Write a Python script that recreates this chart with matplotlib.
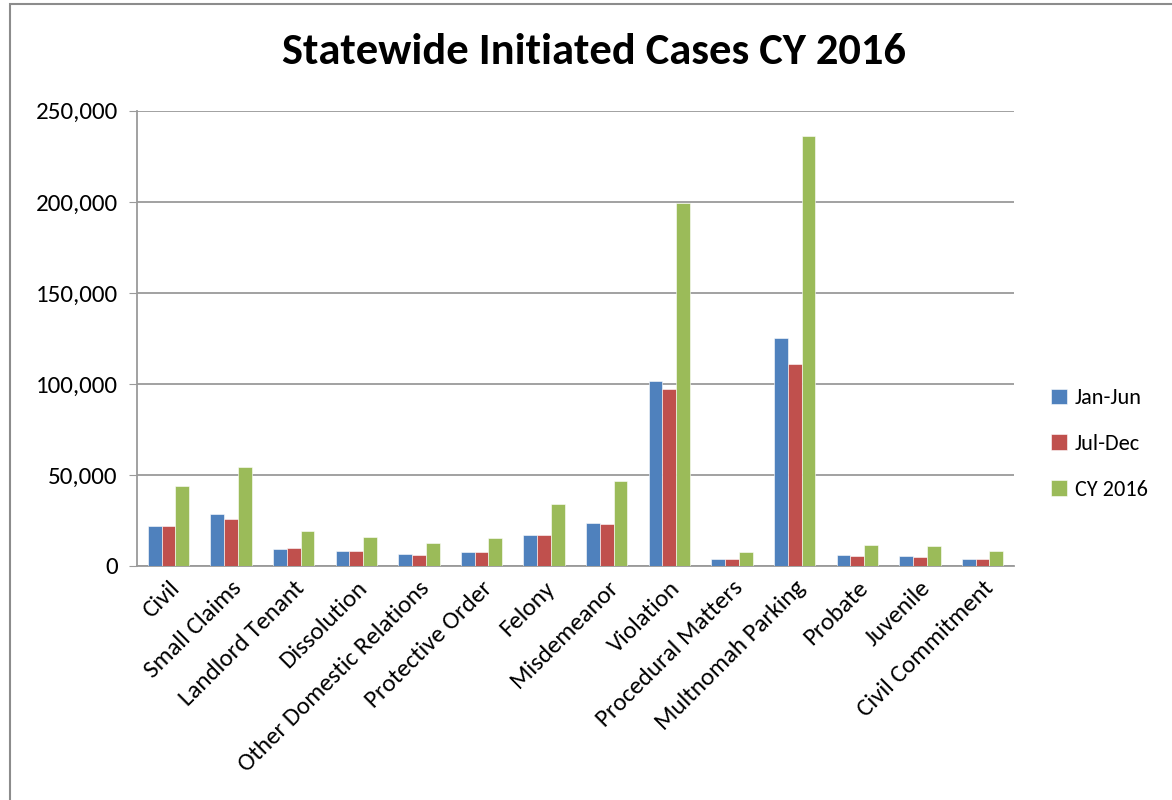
import numpy as np
import matplotlib
matplotlib.use("Agg")
import matplotlib.pyplot as plt
from matplotlib.patches import Rectangle
from matplotlib.ticker import FuncFormatter

categories = ["Civil", "Small Claims", "Landlord Tenant", "Dissolution",
              "Other Domestic Relations", "Protective Order", "Felony",
              "Misdemeanor", "Violation", "Procedural Matters",
              "Multnomah Parking", "Probate", "Juvenile", "Civil Commitment"]
jan_jun = [22000, 28600, 9200, 8100, 6400, 7700, 16900,
           23600, 101700, 3700, 125000, 5900, 5500, 3850]
jul_dec = [21800, 25600, 9700, 8000, 5900, 7500, 16900,
           22900, 97300, 3800, 110800, 5300, 5100, 3850]
cy_2016 = [44000, 54400, 19000, 15900, 12600, 15200, 33900,
           46700, 199100, 7700, 235900, 11400, 11000, 8200]
series_names = ["Jan-Jun", "Jul-Dec", "CY 2016"]
colors = ["#4F81BD", "#C0504D", "#9BBB59"]

plt.rcParams['font.family'] = ['Carlito', 'Lato', 'DejaVu Sans']

fig = plt.figure(figsize=(11.72, 8.0), dpi=100)
ax = fig.add_axes([0.117, 0.2925, 0.748, 0.569])

x = np.arange(len(categories))
w = 0.22
for i, (vals, name, c) in enumerate(zip([jan_jun, jul_dec, cy_2016], series_names, colors)):
    ax.bar(x + (i - 1) * w, vals, width=w, color=c, label=name,
           edgecolor="white", linewidth=0.4, zorder=3)

ax.set_xlim(-0.5, len(categories) - 0.5)
ax.set_ylim(0, 250000)
ax.set_yticks(np.arange(0, 250001, 50000))
ax.yaxis.set_major_formatter(FuncFormatter(lambda v, p: f"{int(v):,}"))
ax.grid(axis="y", color="#9a9a9a", linewidth=1.3, zorder=0)
ax.set_xticks(x)
ax.set_xticklabels(categories, rotation=45, ha="right", rotation_mode="anchor")
ax.tick_params(axis="x", length=0, labelsize=18, pad=8)
ax.tick_params(axis="y", length=6, color="#9a9a9a", labelsize=18, pad=8)
for s in ["top", "right"]:
    ax.spines[s].set_visible(False)
for s in ["left", "bottom"]:
    ax.spines[s].set_color("#9a9a9a")
    ax.spines[s].set_linewidth(1.3)

fig.text(0.507, 0.935, "Statewide Initiated Cases CY 2016", ha="center", va="center",
         fontsize=32, fontweight="bold")

handles, labels = ax.get_legend_handles_labels()
fig.legend(handles, labels, loc="center left", bbox_to_anchor=(0.897, 0.445),
           frameon=False, fontsize=16, handlelength=0.7, handleheight=0.7,
           handletextpad=0.35, labelspacing=1.15, borderpad=0, borderaxespad=0)

fig.patches.append(Rectangle((10 / 1172, -0.05), 1.2, 1.05 - 4 / 800,
                             transform=fig.transFigure, fill=False,
                             edgecolor="#8c8c8c", linewidth=1.5))

fig.savefig("out.png", dpi=100)
